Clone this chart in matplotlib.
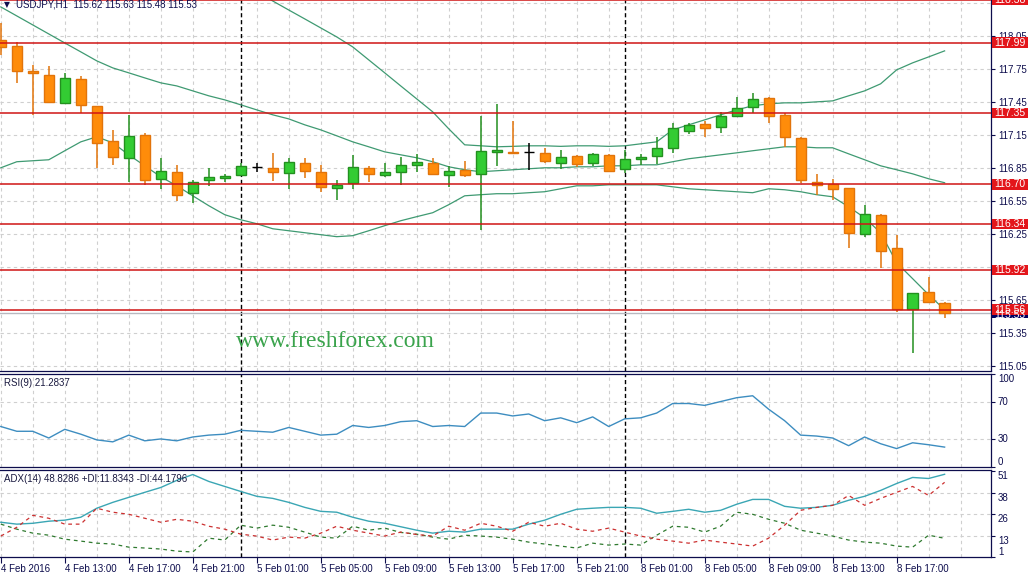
import matplotlib
matplotlib.use("Agg")
import matplotlib.pyplot as plt
import matplotlib.transforms as mtransforms
from matplotlib.patches import Rectangle
import numpy as np

plt.rcParams['font.family'] = ['Liberation Sans', 'DejaVu Sans']

# USDJPY H1, 4 Feb 09:00 .. 8 Feb 20:00
opens = [118.014, 117.959, 117.732, 117.695, 117.441, 117.659, 117.414, 117.095, 116.941, 117.150,
         116.750, 116.814, 116.623, 116.741, 116.759, 116.786, 116.859, 116.850, 116.805, 116.895,
         116.814, 116.668, 116.714, 116.850, 116.786, 116.814, 116.877, 116.895, 116.786, 116.832,
         116.795, 116.995, 116.995, 116.995, 116.986, 116.895, 116.959, 116.895, 116.968, 116.841,
         116.932, 116.959, 117.032, 117.186, 117.250, 117.223, 117.323, 117.405, 117.486, 117.332,
         117.123, 116.723, 116.705, 116.668, 116.250, 116.423, 116.123, 115.568, 115.723, 115.620]
highs = [118.168, 117.995, 117.786, 117.777, 117.714, 117.686, 117.414, 117.195, 117.332, 117.168,
         116.941, 116.877, 116.741, 116.850, 116.795, 116.895, 116.895, 116.986, 116.941, 116.941,
         116.877, 116.741, 116.968, 116.868, 116.895, 116.950, 116.977, 116.941, 116.868, 116.914,
         117.323, 117.432, 117.277, 117.077, 117.032, 117.014, 116.968, 116.986, 116.977, 117.014,
         116.977, 117.132, 117.259, 117.259, 117.277, 117.359, 117.495, 117.532, 117.495, 117.350,
         117.132, 116.795, 116.750, 116.668, 116.514, 116.432, 116.241, 115.714, 115.859, 115.630]
lows = [117.877, 117.623, 117.332, 117.441, 117.441, 117.350, 116.850, 116.877, 116.723, 116.695,
        116.659, 116.550, 116.532, 116.686, 116.723, 116.777, 116.814, 116.732, 116.659, 116.759,
        116.632, 116.559, 116.659, 116.723, 116.768, 116.695, 116.814, 116.786, 116.677, 116.768,
        116.286, 116.868, 116.986, 116.832, 116.895, 116.841, 116.859, 116.868, 116.814, 116.805,
        116.877, 116.886, 116.986, 117.159, 117.132, 117.168, 117.314, 117.350, 117.259, 117.041,
        116.714, 116.605, 116.559, 116.123, 116.223, 115.941, 115.541, 115.168, 115.632, 115.480]
closes = [117.950, 117.732, 117.714, 117.450, 117.668, 117.423, 117.077, 116.950, 117.141, 116.741,
          116.823, 116.605, 116.723, 116.768, 116.777, 116.868, 116.859, 116.814, 116.905, 116.823,
          116.677, 116.695, 116.859, 116.795, 116.814, 116.877, 116.905, 116.795, 116.823, 116.786,
          117.005, 117.014, 116.986, 116.995, 116.914, 116.950, 116.886, 116.977, 116.823, 116.932,
          116.950, 117.032, 117.214, 117.241, 117.214, 117.323, 117.395, 117.477, 117.323, 117.132,
          116.741, 116.695, 116.659, 116.259, 116.432, 116.095, 115.568, 115.714, 115.632, 115.530]

bb_upper = [119.70, 119.62, 119.55, 119.47, 119.39, 119.31, 119.23, 119.15, 119.08, 119.00,
            118.92, 118.84, 118.76, 118.68, 118.60, 118.52, 118.45, 118.368, 118.286, 118.205,
            118.123, 118.041, 117.950, 117.832, 117.714, 117.595, 117.477, 117.359, 117.205, 117.059,
            117.050, 117.041, 117.045, 117.050, 117.050, 117.045, 117.050, 117.050, 117.045, 117.050,
            117.068, 117.086, 117.195, 117.241, 117.286, 117.332, 117.377, 117.414, 117.432, 117.441,
            117.441, 117.450, 117.459, 117.505, 117.550, 117.614, 117.741, 117.805, 117.859, 117.914]
bb_middle = [118.314, 118.232, 118.150, 118.068, 117.986, 117.905, 117.823, 117.759, 117.714, 117.668,
             117.623, 117.595, 117.550, 117.505, 117.468, 117.423, 117.377, 117.332, 117.295, 117.241,
             117.195, 117.141, 117.086, 117.041, 116.995, 116.968, 116.941, 116.905, 116.859, 116.832,
             116.814, 116.823, 116.832, 116.841, 116.850, 116.850, 116.859, 116.859, 116.868, 116.868,
             116.877, 116.877, 116.905, 116.932, 116.950, 116.968, 116.986, 117.005, 117.023, 117.041,
             117.041, 117.032, 117.032, 116.977, 116.923, 116.868, 116.832, 116.795, 116.750, 116.714]
bb_lower = [116.850, 116.905, 116.914, 116.923, 117.005, 117.086, 117.132, 117.077, 116.968, 116.868,
            116.768, 116.686, 116.595, 116.505, 116.423, 116.377, 116.341, 116.295, 116.277, 116.259,
            116.241, 116.223, 116.232, 116.277, 116.323, 116.368, 116.405, 116.441, 116.514, 116.595,
            116.605, 116.614, 116.614, 116.623, 116.632, 116.659, 116.686, 116.686, 116.695, 116.695,
            116.695, 116.695, 116.677, 116.659, 116.650, 116.641, 116.632, 116.623, 116.659, 116.650,
            116.632, 116.605, 116.586, 116.495, 116.395, 116.259, 115.986, 115.841, 115.695, 115.559]

rsi = [43.3, 38.2, 38.2, 31.0, 40.3, 35.1, 29.0, 26.9, 34.1, 28.0,
       30.0, 28.0, 32.1, 34.1, 35.1, 39.2, 38.2, 37.2, 42.3, 38.2,
       34.1, 35.1, 44.4, 42.3, 44.4, 48.5, 49.5, 43.3, 44.4, 43.3,
       57.7, 57.7, 54.6, 56.7, 49.5, 52.6, 47.4, 53.6, 43.3, 51.5,
       52.6, 57.7, 67.9, 67.9, 65.9, 70.0, 74.1, 76.2, 61.8, 49.5,
       34.1, 33.1, 31.0, 22.8, 32.1, 24.9, 19.7, 25.9, 23.8, 21.28]

adx = [21.1, 20.0, 20.5, 21.7, 22.3, 24.0, 29.2, 32.6, 35.5, 38.4,
       41.2, 45.3, 48.7, 44.7, 41.8, 38.9, 36.1, 34.9, 32.6, 29.7,
       27.4, 26.9, 24.0, 21.7, 20.5, 18.5, 16.5, 14.8, 15.9, 15.4,
       17.1, 17.1, 17.1, 20.0, 22.3, 25.7, 28.6, 29.2, 29.7, 29.7,
       29.2, 26.3, 27.4, 28.6, 26.9, 28.0, 31.5, 34.3, 34.3, 30.3,
       29.2, 29.7, 30.9, 33.8, 36.1, 39.5, 43.5, 47.0, 46.4, 48.83]
plus_di = [20.0, 17.1, 14.8, 13.6, 11.3, 10.2, 9.0, 8.5, 6.7, 6.2,
           5.6, 4.4, 3.9, 11.9, 10.8, 19.4, 17.7, 19.4, 18.2, 15.4,
           12.5, 11.9, 18.8, 16.5, 17.7, 15.2, 14.2, 12.5, 11.3, 13.6,
           13.1, 12.5, 11.3, 9.6, 8.5, 7.3, 6.2, 9.0, 7.9, 8.5,
           7.9, 13.6, 18.8, 18.2, 15.4, 18.8, 26.9, 25.7, 22.8, 20.5,
           16.5, 14.8, 13.1, 10.8, 9.6, 9.0, 7.3, 6.7, 13.6, 11.83]
minus_di = [13.1, 18.2, 25.1, 23.4, 20.0, 20.0, 29.2, 26.9, 25.7, 23.4,
            21.1, 22.8, 21.7, 18.8, 17.1, 14.2, 13.1, 10.8, 12.5, 11.9,
            14.8, 18.8, 16.5, 14.8, 13.1, 15.4, 14.0, 13.1, 18.8, 16.5,
            20.5, 18.8, 15.9, 21.1, 18.8, 20.5, 17.1, 15.9, 17.7, 15.4,
            13.1, 11.3, 10.2, 9.0, 10.8, 9.6, 8.5, 7.3, 11.9, 19.4,
            28.0, 29.7, 30.9, 36.6, 30.9, 34.9, 38.4, 41.8, 36.6, 44.18]

levels = [118.38, 117.99, 117.35, 116.70, 116.34, 115.92, 115.56]
bid = 115.53
separators = [15, 39]          # first bar of 5 Feb and 8 Feb
tick_bars = [0, 4, 8, 12, 16, 20, 24, 28, 32, 36, 40, 44, 48, 52, 56]
tick_text = ['4 Feb 2016', '4 Feb 13:00', '4 Feb 17:00', '4 Feb 21:00', '5 Feb 01:00',
             '5 Feb 05:00', '5 Feb 09:00', '5 Feb 13:00', '5 Feb 17:00', '5 Feb 21:00',
             '8 Feb 01:00', '8 Feb 05:00', '8 Feb 09:00', '8 Feb 13:00', '8 Feb 17:00']
price_grid = [115.05, 115.35, 115.65, 115.95, 116.25, 116.55, 116.85, 117.15, 117.45, 117.75, 118.05, 118.35]
price_ticks = [115.05, 115.35, 115.65, 116.25, 116.55, 116.85, 117.15, 117.45, 117.75, 118.05]

NAVY = '#0d0d4d'
GRID = '#cfcfcf'
RED = '#d01515'
FS = 7
W, H = 1033, 579

fig = plt.figure(figsize=(W / 100, H / 100), dpi=100)
fig.patch.set_facecolor('white')


def px_axes(x0, y0, x1, y1):
    return fig.add_axes([x0 / W, 1 - y1 / H, (x1 - x0) / W, (y1 - y0) / H])


ax = px_axes(0, 0, 991, 370.5)
ax_rsi = px_axes(0, 373.5, 991, 467)
ax_adx = px_axes(0, 469.5, 991, 557)

for a in (ax, ax_rsi, ax_adx):
    a.set_xlim(-0.05, 61.9)
    a.spines['left'].set_visible(False)
    for s in ('right', 'bottom', 'top'):
        a.spines[s].set_color(NAVY)
        a.spines[s].set_linewidth(0.9)
    a.yaxis.tick_right()
    a.tick_params(axis='y', colors=NAVY, labelsize=FS, length=3, pad=2, width=0.8)
    for gx in range(0, 62, 2):
        a.axvline(gx, color=GRID, ls=(0, (3, 3)), lw=0.8, zorder=0)
    for sx in separators:
        a.axvline(sx, color='black', ls=(0, (3, 2)), lw=1, zorder=1)
ax.spines['top'].set_visible(False)

# ---- main price panel
ax.set_ylim(115.005, 118.377)
ax.set_yticks(price_ticks, [f'{p:.2f}' for p in price_ticks])
for g in price_grid:
    ax.axhline(g, color=GRID, ls=(0, (3, 3)), lw=0.8, zorder=0)
ax.set_xticks([])
ax_rsi.set_xticks([])

idx = np.arange(len(opens))
o = np.array(opens); h = np.array(highs); l = np.array(lows); c = np.array(closes)

ax.axhline(bid, color='#b8b8c0', lw=1, zorder=1)
ax.plot(idx, bb_upper, color='#3f9a72', lw=0.9, zorder=2)
ax.plot(idx, bb_middle, color='#3f9a72', lw=0.9, zorder=2)
ax.plot(idx, bb_lower, color='#3f9a72', lw=0.9, zorder=2)

styles = [(c > o, '#33cc33', '#23901f'), (c < o, '#ff8c0a', '#e2740a'), (c == o, 'black', 'black')]
for mask, fill, edge in styles:
    ax.vlines(idx[mask], l[mask], h[mask], color=edge, lw=1.1, zorder=3)
    ax.bar(idx[mask], np.abs(c - o)[mask], bottom=np.minimum(o, c)[mask], width=0.64,
           color=fill, edgecolor=edge, linewidth=1, zorder=3.5)

for lv in levels:
    ax.axhline(lv, color=RED, lw=1.1, zorder=4)

tr = mtransforms.blended_transform_factory(fig.transFigure, ax.transData)
box_h = 10.5 / 110


def price_box(value, color, dy=0.0):
    ax.add_patch(Rectangle((992 / W, value - box_h / 2), 36 / W, box_h, transform=tr,
                           facecolor=color, edgecolor='none', clip_on=False, zorder=6))
    ax.text(1010 / W, value + dy, f'{value:.2f}', transform=tr, color='white', fontsize=FS + 0.5,
            ha='center', va='center', clip_on=False, zorder=7)


price_box(bid, '#000060', dy=-0.02)
for lv in levels:
    price_box(lv, '#e3161b')

fig.text(4 / W, 1 - 5 / H, '\u25bc', family='DejaVu Sans', fontsize=5.5, color=NAVY, va='center')
fig.text(16 / W, 1 - 4.5 / H, 'USDJPY,H1  115.62 115.63 115.48 115.53', fontsize=FS, color=NAVY,
         va='center')
fig.text(236 / W, 1 - 347 / H, 'www.freshforex.com', family=['Liberation Serif', 'DejaVu Serif'],
         fontsize=17, color='#3aa34c', va='baseline', ha='left')

# ---- RSI panel
ax_rsi.set_ylim(0, 100)
ax_rsi.set_yticks([0, 30, 70, 100], ['0', '30', '70', '100'])
for lbl, va in zip(ax_rsi.get_yticklabels(), ['bottom', 'center', 'center', 'top']):
    lbl.set_va(va)
for g in (30, 70):
    ax_rsi.axhline(g, color=GRID, ls=(0, (3, 3)), lw=0.8, zorder=0)
ax_rsi.plot(idx, rsi, color='#3d8dc0', lw=1, zorder=3)
fig.text(4 / W, 1 - 383 / H, 'RSI(9) 21.2837', fontsize=FS, color='#1a1a40', va='center')

# ---- ADX panel
ax_adx.set_ylim(1, 51.6)
ax_adx.set_yticks([1, 13, 26, 38, 51], ['1', '13', '26', '38', '51'])
for lbl, va in zip(ax_adx.get_yticklabels(), ['bottom', 'top', 'top', 'top', 'top']):
    lbl.set_va(va)
for g in (13, 26, 38):
    ax_adx.axhline(g, color=GRID, ls=(0, (3, 3)), lw=0.8, zorder=0)
ax_adx.plot(idx, adx, color='#3aa6b4', lw=1, zorder=3)
ax_adx.plot(idx, plus_di, color='#2f7a2f', lw=0.9, ls=(0, (3, 3)), zorder=3)
ax_adx.plot(idx, minus_di, color='#cc3030', lw=0.9, ls=(0, (3, 3)), zorder=3)
fig.text(4 / W, 1 - 479 / H, 'ADX(14) 48.8286 +DI:11.8343 -DI:44.1796', fontsize=FS,
         color='#1a1a40', va='center')

ax_adx.set_xticks(tick_bars, tick_text)
ax_adx.tick_params(axis='x', colors=NAVY, labelsize=FS, length=4, pad=1, width=0.8)
for lbl in ax_adx.get_xticklabels():
    lbl.set_ha('left')

fig.savefig('out.png', dpi=100)
